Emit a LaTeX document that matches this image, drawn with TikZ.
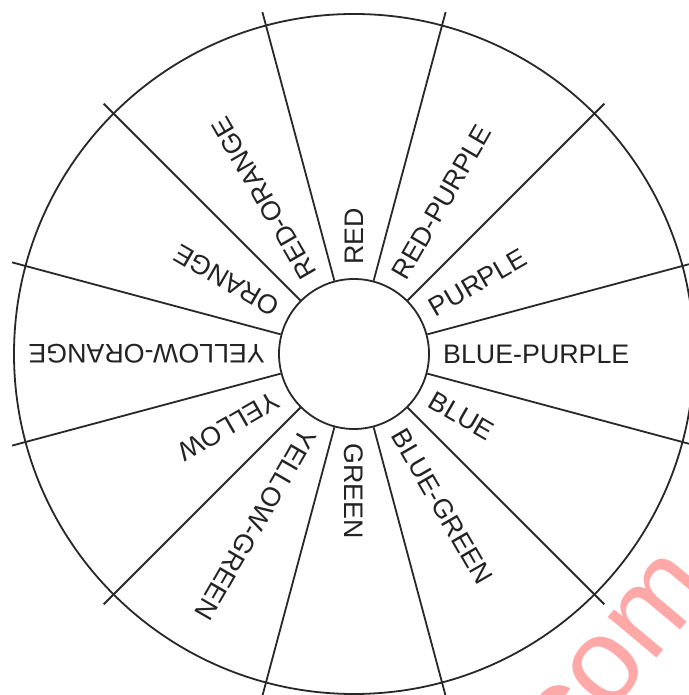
\documentclass[tikz,border=0pt]{standalone}
\usepackage{fontspec}
\setmainfont{Liberation Sans}
\usetikzlibrary{calc}
\definecolor{linegray}{RGB}{40,40,40}
\definecolor{textgray}{RGB}{35,35,35}
\definecolor{wmpink}{RGB}{255,168,168}
\begin{document}
\begin{tikzpicture}[x=1pt,y=1pt,
  wheel/.style={line width=1.8pt, draw=linegray},
  lab/.style={font=\fontsize{26.8}{26.8}\selectfont, inner sep=0pt, anchor=west, text=textgray},
  wmark/.style={font=\fontsize{120}{120}\selectfont, inner sep=0pt, anchor=base west, text=wmpink}]
\useasboundingbox (0,0) rectangle (688,695);
\fill[white] (0,0) rectangle (688,695);
\coordinate (c) at (354,341);
% watermark (behind)
\node[wmark, rotate=50] (wm) at (548,-92) {.com};
% outer rim
\node[wheel, circle, minimum size=680pt, inner sep=0pt, outer sep=0pt] (rim) at (c) {};
% hub
\node[wheel, circle, fill=white, minimum size=150pt, inner sep=0pt] (hub) at (c) {};
% spokes
\foreach \a in {15,45,...,345}{
  \coordinate (end\a) at ($(c)+(\a:354)$);
  \draw[wheel] (hub.\a) -- (end\a);
}
% labels
\foreach \a/\t/\n in {90/RED/red, 60/RED-PURPLE/redpurple, 30/PURPLE/purple,
  0/BLUE-PURPLE/bluepurple, -30/BLUE/blue, -60/BLUE-GREEN/bluegreen,
  -90/GREEN/green, -120/YELLOW-GREEN/yellowgreen, -150/YELLOW/yellow,
  180/YELLOW-ORANGE/yelloworange, 150/ORANGE/orange, 120/RED-ORANGE/redorange}{
  \node[lab, rotate=\a] (\n) at ($(c)+(\a:89)$) {\t};
}
\end{tikzpicture}
\end{document}
